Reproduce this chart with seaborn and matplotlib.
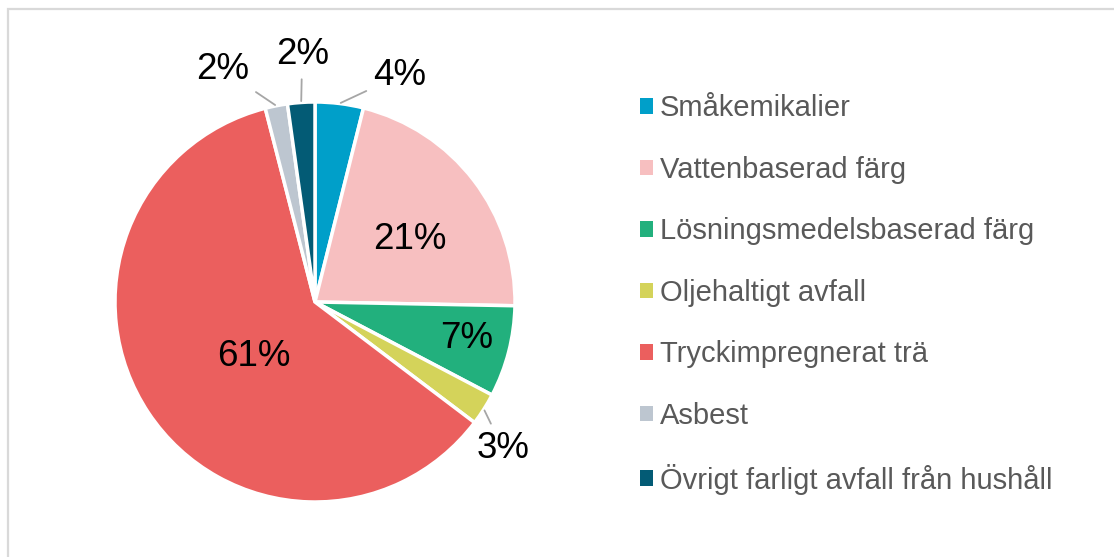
import numpy as np
import matplotlib
matplotlib.use("Agg")
import matplotlib.pyplot as plt
import seaborn as sns
from matplotlib.patches import Rectangle, Patch

# data (percent of total)
categories = [
    "Småkemikalier",
    "Vattenbaserad färg",
    "Lösningsmedelsbaserad färg",
    "Oljehaltigt avfall",
    "Tryckimpregnerat trä",
    "Asbest",
    "Övrigt farligt avfall från hushåll",
]
shares = [3.9, 21.4, 7.4, 2.6, 60.7, 1.8, 2.2]
colors = ["#009fc9", "#f7bfc0", "#22b07d", "#d4d35a", "#eb5f5e", "#bdc6d0", "#035b75"]

# label placement: radius (pie units) and angle nudge (deg) from the slice middle
label_r = [1.21, 0.57, 0.78, 1.19, 0.41, 1.25, 1.24]
label_dang = [-13.5, -4.0, 1.0, -5.5, 8.0, 10.5, -1.0]
outside = [True, False, False, True, False, True, True]

sns.set_theme(style="white")
plt.rcParams["font.family"] = ["Liberation Sans", "DejaVu Sans"]

fig = plt.figure(figsize=(11.14, 5.57), dpi=100)

# thin gray frame around the chart area
fig.patches.append(Rectangle((8 / 1114, -0.05), 1.2, (557 - 9) / 557 + 0.05,
                             transform=fig.transFigure, fill=False,
                             edgecolor="#d9d9d9", linewidth=1.6))

ax = fig.add_axes([55 / 1114, -5 / 557, 520 / 1114, 520 / 557])
wedges, _ = ax.pie(shares, colors=colors, startangle=90, counterclock=False,
                   radius=1.0, wedgeprops=dict(edgecolor="white", linewidth=2.5))
ax.set_xlim(-1.3, 1.3)
ax.set_ylim(-1.3, 1.3)
ax.set_aspect("equal")
ax.axis("off")

for w, val, r, da, out in zip(wedges, shares, label_r, label_dang, outside):
    mid = np.deg2rad((w.theta1 + w.theta2) / 2)
    ang = mid + np.deg2rad(da)
    tx, ty = r * np.cos(ang), r * np.sin(ang)
    txt = f"{round(val):d}%"
    if out:
        ex, ey = 1.0 * np.cos(mid), 1.0 * np.sin(mid)
        ax.annotate(txt, xy=(ex, ey), xytext=(tx, ty), fontsize=26.5,
                    color="black", ha="center", va="center",
                    annotation_clip=False,
                    arrowprops=dict(arrowstyle="-", color="#a6a6a6", lw=1.3,
                                    shrinkA=3, shrinkB=1))
    else:
        ax.text(tx, ty, txt, fontsize=26.5, color="black",
                ha="center", va="center")

handles = [Patch(facecolor=c, edgecolor="none") for c in colors]
leg = fig.legend(handles, categories, loc="upper left",
                 bbox_to_anchor=(614 / 1114, 1 - 68 / 557), frameon=False,
                 fontsize=21, handlelength=0.45, handleheight=0.45,
                 handletextpad=0.22, labelspacing=1.15)
for t in leg.get_texts():
    t.set_color("#595959")

fig.savefig("out.png", dpi=100)
